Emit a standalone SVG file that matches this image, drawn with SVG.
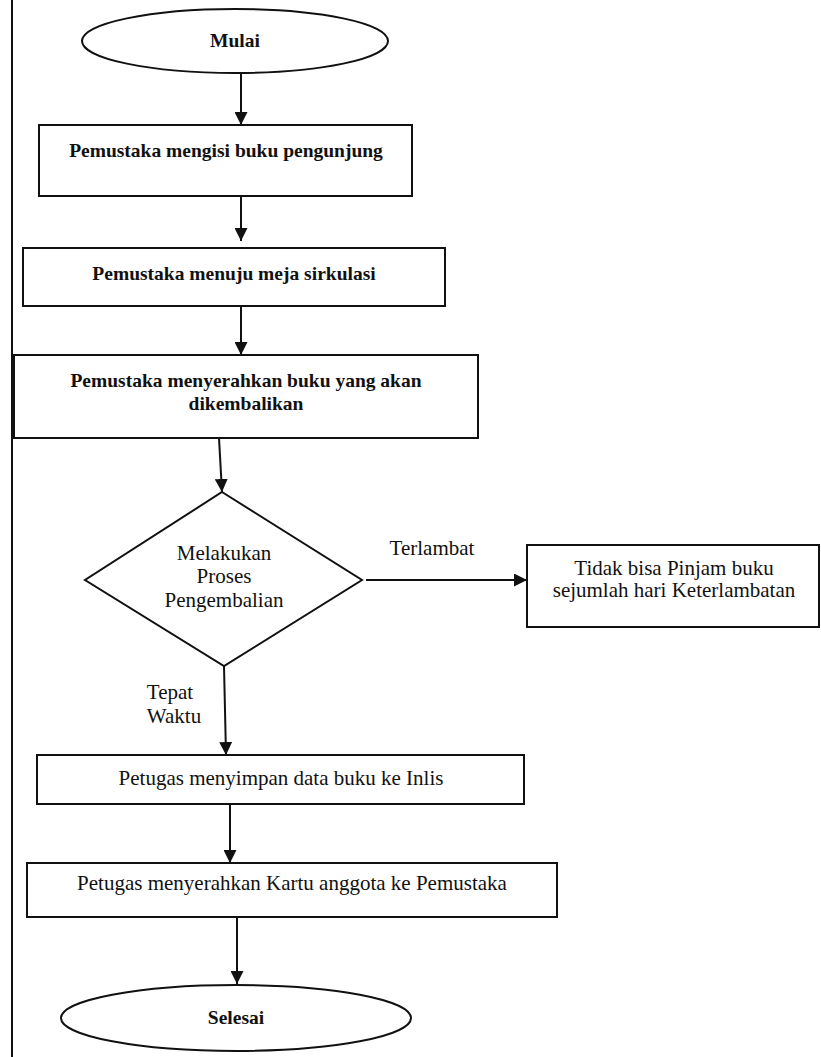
<svg xmlns="http://www.w3.org/2000/svg" width="821" height="1057" viewBox="0 0 821 1057">
  <style>
    .shape { fill: #ffffff; stroke: #111111; stroke-width: 2; }
    .conn { fill: none; stroke: #111111; stroke-width: 2; }
    .b { font-family: "Liberation Serif", "Times New Roman", serif; font-weight: bold; font-size: 19.5px; fill: #111111; text-anchor: middle; }
    .r { font-family: "Liberation Serif", "Times New Roman", serif; font-size: 21px; fill: #111111; text-anchor: middle; }
  </style>
  <defs>
    <marker id="arrow" markerUnits="userSpaceOnUse" markerWidth="13" markerHeight="13" refX="13" refY="6.5" orient="auto">
      <path d="M0,0 L13,6.5 L0,13 Z" fill="#111111"/>
    </marker>
  </defs>
  <rect x="0" y="0" width="821" height="1057" fill="#ffffff"/>
  <line x1="12" y1="0" x2="12" y2="1057" stroke="#111111" stroke-width="2"/>

  <g id="connectors">
    <line class="conn" x1="241" y1="73" x2="241" y2="125" marker-end="url(#arrow)"/>
    <line class="conn" x1="241" y1="196" x2="241" y2="241" marker-end="url(#arrow)"/>
    <line class="conn" x1="241" y1="287" x2="241" y2="355" marker-end="url(#arrow)"/>
    <line class="conn" x1="219" y1="438" x2="222" y2="492" marker-end="url(#arrow)"/>
    <line class="conn" x1="366" y1="580" x2="527" y2="580" marker-end="url(#arrow)"/>
    <line class="conn" x1="224" y1="666" x2="226" y2="755" marker-end="url(#arrow)"/>
    <line class="conn" x1="230" y1="804" x2="230" y2="863" marker-end="url(#arrow)"/>
    <line class="conn" x1="237" y1="917" x2="237" y2="984" marker-end="url(#arrow)"/>
    <text class="r" x="432" y="555">Terlambat</text>
    <text class="r" x="170" y="699">Tepat</text>
    <text class="r" x="174" y="723">Waktu</text>
  </g>

  <g id="mulai">
    <ellipse class="shape" cx="235" cy="41" rx="153" ry="32"/>
    <text class="b" x="235" y="47">Mulai</text>
  </g>

  <g id="isi-buku">
    <rect class="shape" x="39" y="125" width="373" height="71"/>
    <text class="b" x="226" y="157">Pemustaka mengisi buku pengunjung</text>
  </g>

  <g id="menuju-meja">
    <rect class="shape" x="23" y="248" width="422" height="58"/>
    <text class="b" x="234" y="280">Pemustaka menuju meja sirkulasi</text>
  </g>

  <g id="menyerahkan-buku">
    <rect class="shape" x="14" y="355" width="464" height="83"/>
    <text class="b" x="246" y="387">Pemustaka menyerahkan buku yang akan</text>
    <text class="b" x="246" y="410">dikembalikan</text>
  </g>

  <g id="proses-pengembalian">
    <polygon class="shape" points="222,492 362,580 224,666 85,580"/>
    <text class="r" x="224" y="560">Melakukan</text>
    <text class="r" x="224" y="583">Proses</text>
    <text class="r" x="224" y="607">Pengembalian</text>
  </g>

  <g id="tidak-bisa-pinjam">
    <rect class="shape" x="527" y="545" width="292" height="82"/>
    <text class="r" x="674" y="575">Tidak bisa Pinjam buku</text>
    <text class="r" x="674" y="597">sejumlah hari Keterlambatan</text>
  </g>

  <g id="simpan-data">
    <rect class="shape" x="37" y="755" width="487" height="49"/>
    <text class="r" x="281" y="785">Petugas menyimpan data buku ke Inlis</text>
  </g>

  <g id="serahkan-kartu">
    <rect class="shape" x="27" y="863" width="530" height="54"/>
    <text class="r" x="292" y="890">Petugas menyerahkan Kartu anggota ke Pemustaka</text>
  </g>

  <g id="selesai">
    <ellipse class="shape" cx="236" cy="1018" rx="175" ry="33"/>
    <text class="b" x="236" y="1024">Selesai</text>
  </g>
</svg>
